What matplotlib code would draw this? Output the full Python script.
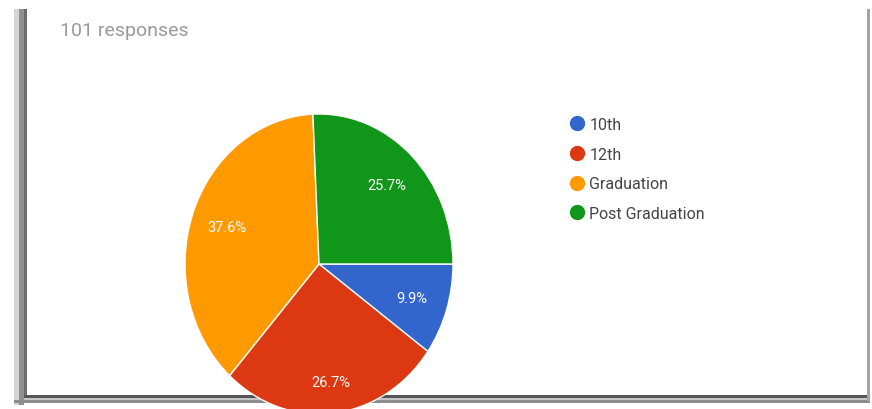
import matplotlib
matplotlib.use("Agg")
import numpy as np
import matplotlib.pyplot as plt
from matplotlib.patches import Rectangle
from matplotlib.lines import Line2D

# survey answers
labels = ['10th', '12th', 'Graduation', 'Post Graduation']
shares = [9.9, 26.7, 37.6, 25.7]
colors = ['#3366CC', '#DC3912', '#FF9900', '#109618']
n_responses = 101

plt.rcParams['font.family'] = ['Roboto', 'DejaVu Sans']

W, H = 872, 410
fig = plt.figure(figsize=(W / 100, H / 100), dpi=100)
fig.patch.set_facecolor('white')

# window frame behind everything, in pixel units
bg = fig.add_axes([0, 0, 1, 1], zorder=-1)
bg.set_xlim(0, W)
bg.set_ylim(H, 0)
bg.axis('off')
frame = [
    ((14, 10), 5, 396, '#d4d4d4'),
    ((19, 10), 5, 396, '#909090'),
    ((24, 10), 3, 388, '#6c6c6c'),
    ((24, 396), 846, 3, '#555555'),
    ((24, 399), 846, 2, '#c4c4c4'),
    ((14, 401), 856, 3, '#8c8c8c'),
    ((867, 10), 3, 392, '#a4a4a4'),
]
for xy, w, h, c in frame:
    bg.add_patch(Rectangle(xy, w, h, color=c, lw=0))

fig.text(60 / W, 1 - 31 / H, f'{n_responses} responses', fontsize=14,
         color='#999999', va='center', ha='left')

# pie is slightly taller than wide
left, right, top, bottom = 185, 453, 115, 415
ax = fig.add_axes([left / W, 1 - bottom / H, (right - left) / W, (bottom - top) / H])
wedges, texts, autotexts = ax.pie(
    shares, colors=colors, startangle=0, counterclock=False,
    autopct='%.1f%%', pctdistance=0.73,
    wedgeprops=dict(edgecolor='white', linewidth=1.0),
    textprops=dict(color='white', fontsize=10.5))
ax.set_aspect('auto')
ax.set_xlim(-1, 1)
ax.set_ylim(-1, 1)

# the bottom label sits a bit further out
w = wedges[1]
mid = np.deg2rad((w.theta1 + w.theta2) / 2)
autotexts[1].set_position((0.79 * np.cos(mid), 0.79 * np.sin(mid)))

handles = [Line2D([], [], marker='o', ls='', markersize=10,
                  markerfacecolor=c, markeredgecolor=c) for c in colors]
fig.legend(handles, labels, loc='upper left',
           bbox_to_anchor=(563 / W, 1 - 110 / H), frameon=False,
           fontsize=11.5, labelcolor='#444444', handlelength=0.8,
           handletextpad=0.35, labelspacing=0.92, borderpad=0)

fig.savefig('out.png', dpi=100)
